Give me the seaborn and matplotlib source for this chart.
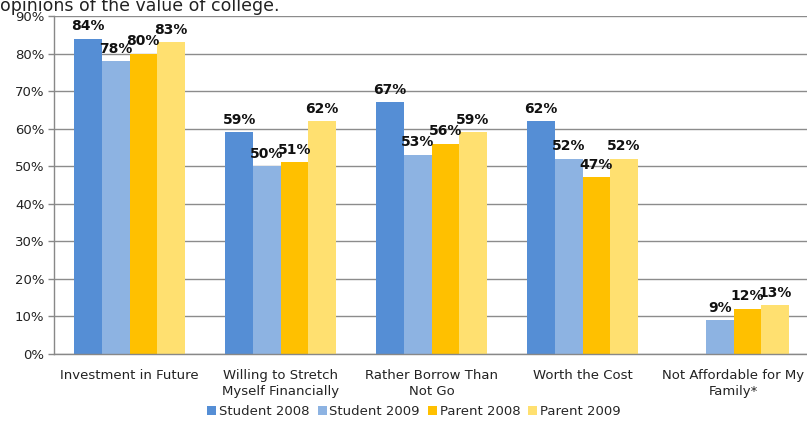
import matplotlib
matplotlib.use("Agg")
import matplotlib.pyplot as plt
import seaborn as sns
import pandas as pd
import numpy as np

categories = ["Investment in Future", "Willing to Stretch\nMyself Financially",
              "Rather Borrow Than\nNot Go", "Worth the Cost",
              "Not Affordable for My\nFamily*"]
series = ["Student 2008", "Student 2009", "Parent 2008", "Parent 2009"]
student_2008 = [84, 59, 67, 62, np.nan]
student_2009 = [78, 50, 53, 52, 9]
parent_2008 = [80, 51, 56, 47, 12]
parent_2009 = [83, 62, 59, 52, 13]
colors = ["#558ED5", "#8DB3E2", "#FFC000", "#FFE070"]
yticks = [0, 10, 20, 30, 40, 50, 60, 70, 80, 90]

rows = []
for s, vals in zip(series, [student_2008, student_2009, parent_2008, parent_2009]):
    for c, v in zip(categories, vals):
        rows.append({"cat": c, "series": s, "value": v})
df = pd.DataFrame(rows)

sns.set_style("white")
plt.rcParams['font.family'] = ['DejaVu Sans']

fig = plt.figure(figsize=(8.07, 4.26), dpi=100)
ax = fig.add_axes([54/807, 72/426, 755/807, 338/426])
sns.barplot(data=df, x="cat", y="value", hue="series", order=categories,
            hue_order=series, palette=colors, width=0.73, saturation=1,
            edgecolor="none", ax=ax, legend=True, errorbar=None)

for cont in ax.containers:
    labels = ["" if np.isnan(v) else f"{int(v)}%" for v in cont.datavalues]
    ax.bar_label(cont, labels=labels, padding=4, fontsize=10, fontweight="bold",
                 color="#111111")

ax.set_ylim(0, 90)
ax.set_xlim(-0.5, 4.5)
ax.set_yticks(yticks)
ax.set_yticklabels([f"{t}%" for t in yticks], fontsize=9.5, color="#222222")
ax.set_xticks(range(len(categories)))
ax.set_xticklabels(categories, fontsize=9.5, color="#222222", linespacing=1.3)
ax.tick_params(axis="x", which="major", length=0, pad=11)
ax.set_xticks(np.arange(-0.5, 5, 1), minor=True)
ax.tick_params(axis="x", which="minor", length=5, color="#888888", width=1)
ax.tick_params(axis="y", length=4, color="#888888", width=1, left=True, pad=3)
ax.yaxis.grid(True, color="#8c8c8c", linewidth=1)
ax.set_axisbelow(True)
for sp in ["top", "right"]:
    ax.spines[sp].set_visible(False)
for sp in ["left", "bottom"]:
    ax.spines[sp].set_color("#888888")
    ax.spines[sp].set_linewidth(1)
ax.set_xlabel("")
ax.set_ylabel("")

leg = ax.legend(loc="lower center", bbox_to_anchor=(414/807, 0.0), bbox_transform=fig.transFigure,
                ncol=4, frameon=False, fontsize=9.5, handlelength=0.7, handleheight=0.7,
                handletextpad=0.2, columnspacing=0.6, borderaxespad=0.2)

fig.text(0.0, 1 - 11/426, "opinions of the value of college.", fontsize=12.5, color="#222222",
         ha="left", va="baseline")

fig.savefig("out.png", dpi=100)
